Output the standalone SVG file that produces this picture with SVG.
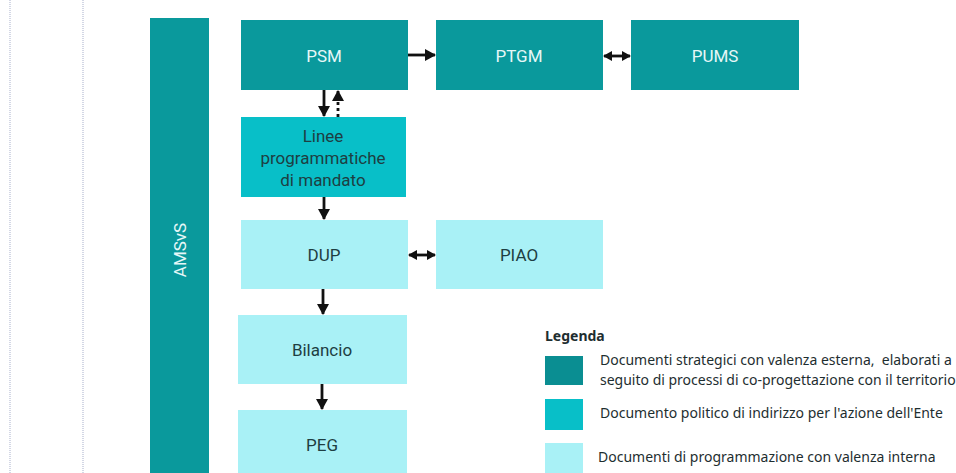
<svg xmlns="http://www.w3.org/2000/svg" width="956" height="473" viewBox="0 0 956 473">
<style>
.dark{fill:#0A999C}
.mid{fill:#08BFC8}
.light{fill:#A9F1F6}
.lbl{font-family:Roboto,"Liberation Sans",Arial,sans-serif;font-size:17px;text-anchor:middle;dominant-baseline:central}
.lw{fill:#E6F7F7}
.ld{fill:#1E3E42}
.leg{font-family:"Noto Sans","Open Sans",sans-serif;font-size:14px;fill:#1E2E30}
.ar{stroke:#111;stroke-width:2.8;fill:none}
.guide{stroke:#C5CADD;stroke-width:1.5;stroke-dasharray:1 1}
</style>
<defs>
<marker id="ah" markerUnits="userSpaceOnUse" markerWidth="14" markerHeight="14" refX="10" refY="6" orient="auto-start-reverse">
<path d="M0,0 L11,6 L0,12 Z" fill="#111"/>
</marker>
<marker id="ahs" markerUnits="userSpaceOnUse" markerWidth="12" markerHeight="12" refX="8" refY="5" orient="auto-start-reverse">
<path d="M0,0 L9,5 L0,10 Z" fill="#111"/>
</marker>
</defs>
<rect width="956" height="473" fill="#fff"/>
<line class="guide" x1="10" y1="0" x2="10" y2="473"/>
<line class="guide" x1="83" y1="0" x2="83" y2="473"/>

<g id="amsvs">
<rect class="dark" x="150" y="18" width="59" height="460"/>
<text class="lbl lw" transform="translate(180,250) rotate(-90)">AMSvS</text>
</g>
<g id="psm"><rect class="dark" x="241" y="20" width="167" height="70"/><text class="lbl lw" x="324" y="56">PSM</text></g>
<g id="ptgm"><rect class="dark" x="436" y="20" width="167" height="70"/><text class="lbl lw" x="519" y="56">PTGM</text></g>
<g id="pums"><rect class="dark" x="631" y="20" width="168" height="70"/><text class="lbl lw" x="715" y="56">PUMS</text></g>
<g id="linee"><rect class="mid" x="241" y="117" width="165" height="80"/>
<text class="lbl ld" x="323" y="136">Linee</text>
<text class="lbl ld" x="323" y="158">programmatiche</text>
<text class="lbl ld" x="323" y="180">di mandato</text></g>
<g id="dup"><rect class="light" x="241" y="220" width="167" height="69"/><text class="lbl ld" x="324" y="255">DUP</text></g>
<g id="piao"><rect class="light" x="436" y="220" width="167" height="69"/><text class="lbl ld" x="519" y="255">PIAO</text></g>
<g id="bilancio"><rect class="light" x="238" y="315" width="169" height="69"/><text class="lbl ld" x="322" y="350">Bilancio</text></g>
<g id="peg"><rect class="light" x="238" y="410" width="169" height="70"/><text class="lbl ld" x="322" y="445">PEG</text></g>

<g id="connectors">
<line class="ar" x1="408" y1="55" x2="435" y2="55" marker-end="url(#ah)"/>
<line class="ar" x1="604" y1="56" x2="630" y2="56" marker-start="url(#ahs)" marker-end="url(#ahs)"/>
<line class="ar" x1="324" y1="90" x2="324" y2="116" marker-end="url(#ah)"/>
<line class="ar" x1="338" y1="117" x2="338" y2="91" stroke-dasharray="3 3" marker-end="url(#ah)"/>
<line class="ar" x1="324" y1="197" x2="324" y2="219" marker-end="url(#ah)"/>
<line class="ar" x1="409" y1="255" x2="435" y2="255" marker-start="url(#ahs)" marker-end="url(#ahs)"/>
<line class="ar" x1="323" y1="289" x2="323" y2="314" marker-end="url(#ah)"/>
<line class="ar" x1="322" y1="384" x2="322" y2="409" marker-end="url(#ah)"/>
</g>

<g id="legend">
<text class="leg" x="545" y="341" font-weight="bold">Legenda</text>
<rect x="545" y="356" width="38" height="29" fill="#0A8E92"/>
<rect class="mid" x="545" y="399" width="38" height="31"/>
<rect class="light" x="545" y="443" width="38" height="35"/>
<text class="leg" x="600" y="365">Documenti strategici con valenza esterna,&#160; elaborati a</text>
<text class="leg" x="600" y="385">seguito di processi di co-progettazione con il territorio</text>
<text class="leg" x="600" y="418">Documento politico di indirizzo per l'azione dell'Ente</text>
<text class="leg" x="598" y="462">Documenti di programmazione con valenza interna</text>
</g>
</svg>
